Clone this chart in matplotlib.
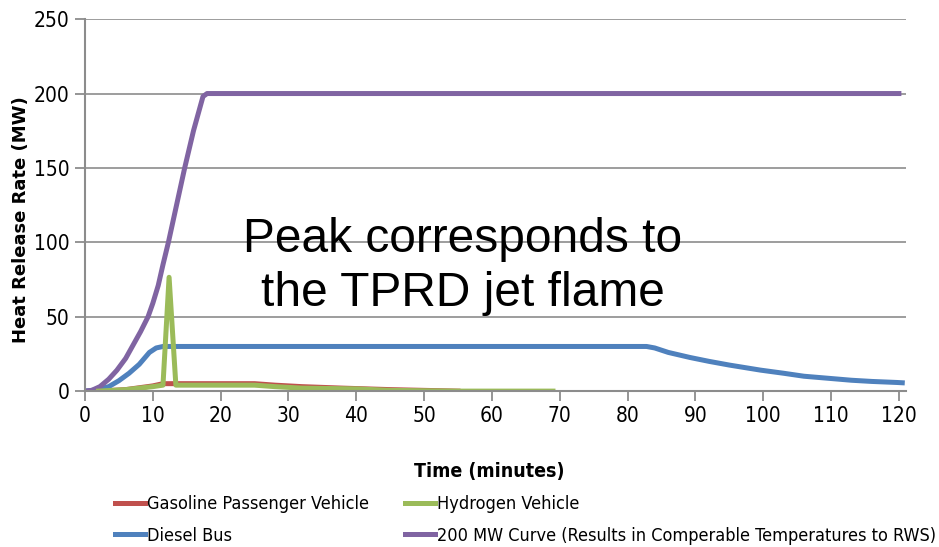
import numpy as np
import matplotlib.pyplot as plt
from matplotlib import font_manager

# data
t_purple = [0, 1, 2.2, 3.5, 4.7, 6, 7.1, 8.2, 9.3, 10, 10.8, 11.5, 12.3, 13.5, 14.7, 16, 17.4, 18, 40, 80, 120]
hrr_purple = [0, 0.5, 3, 8, 14, 22, 31, 40, 50, 59, 71, 85, 100, 125, 150, 175, 198, 200, 200, 200, 200]

t_blue = [0, 2, 3.5, 5, 6.5, 8, 9.5, 10.5, 11.5, 30, 60, 82.8, 84, 86, 89.2, 92, 95, 99.6, 103, 106, 109.9, 113, 116, 119.7, 120.5]
hrr_blue = [0, 1, 3, 7, 12, 18, 26, 29, 30, 30, 30, 30, 29, 26, 22.6, 20, 17.5, 14.1, 12, 10, 8.5, 7.3, 6.5, 5.8, 5.6]

t_red = [2, 6, 10, 11.5, 13, 20, 25, 28, 32, 38, 45, 55]
hrr_red = [0, 1, 3.5, 5, 5, 5, 5, 4, 3, 2, 1, 0]

t_green = [2, 6, 10, 11.5, 12.4, 13.4, 20, 25, 28, 32, 40, 45, 55, 69]
hrr_green = [0, 1, 3, 4, 76.5, 4, 4, 4, 3, 2, 1.5, 0.5, 0, 0]

labels = ['Gasoline Passenger Vehicle', 'Diesel Bus', 'Hydrogen Vehicle',
          '200 MW Curve (Results in Comperable Temperatures to RWS)']
colors = ['#C0504D', '#4F81BD', '#9BBB59', '#8064A2']

cond = font_manager.FontProperties(family='DejaVu Sans', stretch='condensed', size=15)

fig = plt.figure(figsize=(9.39, 5.47), dpi=100)
ax = fig.add_axes([0.0905, 0.285, 0.874, 0.68])

lw = 3.6
h_red, = ax.plot(t_red, hrr_red, color=colors[0], lw=lw, solid_joinstyle='round')
h_blue, = ax.plot(t_blue, hrr_blue, color=colors[1], lw=lw, solid_joinstyle='round')
h_purple, = ax.plot(t_purple, hrr_purple, color=colors[3], lw=lw, solid_joinstyle='round')
h_green, = ax.plot(t_green, hrr_green, color=colors[2], lw=lw, solid_joinstyle='round')

ax.set_xlim(0, 121)
ax.set_ylim(0, 250)
ax.set_xticks(np.arange(0, 121, 10))
ax.set_yticks(np.arange(0, 251, 50))
ax.grid(axis='y', color='#8c8c8c', lw=1.2)
ax.set_axisbelow(True)
for s in ['top', 'right']:
    ax.spines[s].set_visible(False)
for s in ['left', 'bottom']:
    ax.spines[s].set_color('#8c8c8c')
    ax.spines[s].set_linewidth(1.5)
ax.tick_params(axis='both', colors='#8c8c8c', length=7, width=1.3, direction='out')
ax.tick_params(axis='both', labelcolor='black', pad=4)
for lab in ax.get_xticklabels() + ax.get_yticklabels():
    lab.set_fontproperties(cond)

xl_font = font_manager.FontProperties(family='DejaVu Sans', stretch='condensed', weight='bold', size=14)
ax.set_xlabel('Time (minutes)', fontproperties=xl_font)
ax.xaxis.set_label_coords(0.493, -0.19)
ax.set_ylabel('Heat Release Rate (MW)', fontsize=13, fontweight='bold', family='DejaVu Sans')
ax.yaxis.set_label_coords(-0.067, 0.46)

ax.text(0.46, 0.335, 'Peak corresponds to\nthe TPRD jet flame', transform=ax.transAxes,
        ha='center', va='center', fontsize=34.5, family='Liberation Sans', linespacing=1.27)

leg_font = font_manager.FontProperties(family='DejaVu Sans', stretch='condensed', size=13)
fig.legend([h_red, h_blue, h_green, h_purple], labels, ncol=2, loc='upper left',
           bbox_to_anchor=(0.1225, 0.095), frameon=False, prop=leg_font,
           handlelength=1.66, handletextpad=0.1, columnspacing=2.0, labelspacing=0.75,
           borderaxespad=0, borderpad=0)

plt.savefig('out.png', dpi=100)
